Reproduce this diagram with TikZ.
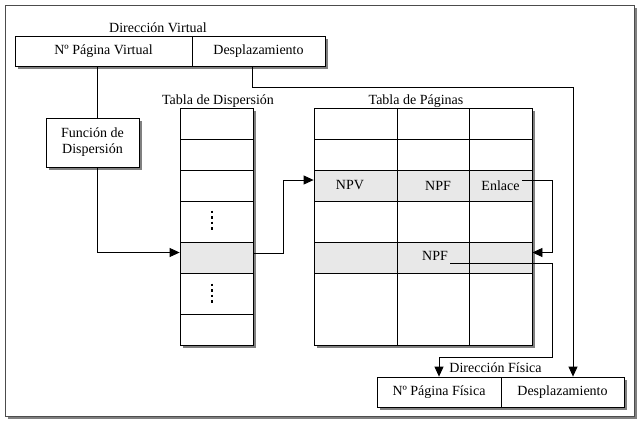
\documentclass[tikz,border=0pt]{standalone}
\usepackage{fontspec}
\setmainfont{Liberation Serif}
\usetikzlibrary{arrows.meta,shadows}
\definecolor{grisclaro}{HTML}{E8E8E8}
\definecolor{sombra}{HTML}{808080}

\begin{document}
\begin{tikzpicture}[x=1pt,y=-1pt,line width=0.8pt,
    >={Triangle[length=10pt,width=9pt]},
    every node/.style={font=\fontsize{14}{16}\selectfont},
    caja/.style={draw,fill=white,inner sep=0pt,
        general shadow={fill=sombra,shadow xshift=2.5pt,shadow yshift=-2.5pt}},
    gris/.style={fill=grisclaro},
    texto/.style={inner sep=2pt},
    puntos/.style={line width=2.2pt,dash pattern=on 2.5pt off 3pt}]
\useasboundingbox (0,0) rectangle (641,424);
\node (marco) [caja,draw=black!70,minimum width=629pt,minimum height=411pt] at (319.5,210.5) {};

\node (dv) [texto] at (158,28) {Dirección Virtual};
\node (tdtit) [texto] at (218,101) {Tabla de Dispersión};
\node (tptit) [texto] at (416,101) {Tabla de Páginas};
\node (df) [texto] at (495.5,368) {Dirección Física};

\begin{scope}[every node/.append style={caja,minimum height=30pt}]
    \node (vnp) [minimum width=177pt] at (103.5,51) {Nº Página Virtual};
    \node (vdesp) [minimum width=133pt] at (258.5,51) {Desplazamiento};
    \node (fnp) [minimum width=124pt] at (439,392) {Nº Página Física};
    \node (fdesp) [minimum width=123pt] at (562.5,392) {Desplazamiento};
\end{scope}
\node (func) [caja,minimum width=93pt,minimum height=49pt,align=center] at (92.5,142.5) {Función de\\Dispersión};

\begin{scope}[every node/.append style={caja,minimum width=73pt}]
    \node (d1) [minimum height=31pt] at (216.5,123.5) {};
    \node (d2) [minimum height=31pt] at (216.5,154.5) {};
    \node (d3) [minimum height=31pt] at (216.5,185.5) {};
    \node (d4) [minimum height=41pt] at (216.5,221.5) {};
    \node (d5) [minimum height=31pt,gris] at (216.5,257.5) {};
    \node (d6) [minimum height=41pt] at (216.5,293.5) {};
    \node (d7) [minimum height=31pt] at (216.5,329.5) {};
\end{scope}
\draw[puntos] ([shift={(-4.5,-11)}]d4.center) -- ++(0,21);
\draw[puntos] ([shift={(-4.5,-10)}]d6.center) -- ++(0,21);

\begin{scope}[every node/.append style={caja}]
    \node (p11) [minimum width=83pt,minimum height=31pt] at (355.5,123.5) {};
    \node (p12) [minimum width=72pt,minimum height=31pt] at (433,123.5) {};
    \node (p13) [minimum width=63pt,minimum height=31pt] at (500.5,123.5) {};
    \node (p21) [minimum width=83pt,minimum height=31pt] at (355.5,154.5) {};
    \node (p22) [minimum width=72pt,minimum height=31pt] at (433,154.5) {};
    \node (p23) [minimum width=63pt,minimum height=31pt] at (500.5,154.5) {};
    \node (p31) [minimum width=83pt,minimum height=31pt,gris] at (355.5,185.5) {};
    \node (p32) [minimum width=72pt,minimum height=31pt,gris] at (433,185.5) {};
    \node (p33) [minimum width=63pt,minimum height=31pt,gris] at (500.5,185.5) {};
    \node (p41) [minimum width=83pt,minimum height=41pt] at (355.5,221.5) {};
    \node (p42) [minimum width=72pt,minimum height=41pt] at (433,221.5) {};
    \node (p43) [minimum width=63pt,minimum height=41pt] at (500.5,221.5) {};
    \node (p51) [minimum width=83pt,minimum height=31pt,gris] at (355.5,257.5) {};
    \node (p52) [minimum width=72pt,minimum height=31pt,gris] at (433,257.5) {};
    \node (p53) [minimum width=63pt,minimum height=31pt,gris] at (500.5,257.5) {};
    \node (p61) [minimum width=83pt,minimum height=72pt] at (355.5,309) {};
    \node (p62) [minimum width=72pt,minimum height=72pt] at (433,309) {};
    \node (p63) [minimum width=63pt,minimum height=72pt] at (500.5,309) {};
\end{scope}
\node (npv) [texto] at (350,185.5) {NPV};
\node (npf1) [texto] at (438,185.5) {NPF};
\node (enlace) [texto] at (500.5,185.5) {Enlace};
\node (npf2) [texto] at (435,256) {NPF};

\coordinate (codo1) at (552,357);
\coordinate (codo2) at (573,87);
\begin{scope}
    \draw ([xshift=-6.5pt]vnp.south) -- ([xshift=4.5pt]func.north);
    \draw[->] ([xshift=4.5pt]func.south) |- ([yshift=5pt]d5.west);
    \draw[->] ([yshift=4.5pt]d5.east) -- ++(30,0) |- ([yshift=5.5pt]p31.west);
    \draw[->] ([yshift=5.5pt]enlace.east) -| ([xshift=20pt,yshift=5pt]p53.east) -- ([yshift=5pt]p53.east);
    \draw[->] ([yshift=-7pt]npf2.east) -| (codo1) -| (fnp.north);
    \draw[->] ([xshift=-6pt]vdesp.south) |- (codo2) -- ([xshift=10.5pt]fdesp.north);
\end{scope}
\end{tikzpicture}
\end{document}
